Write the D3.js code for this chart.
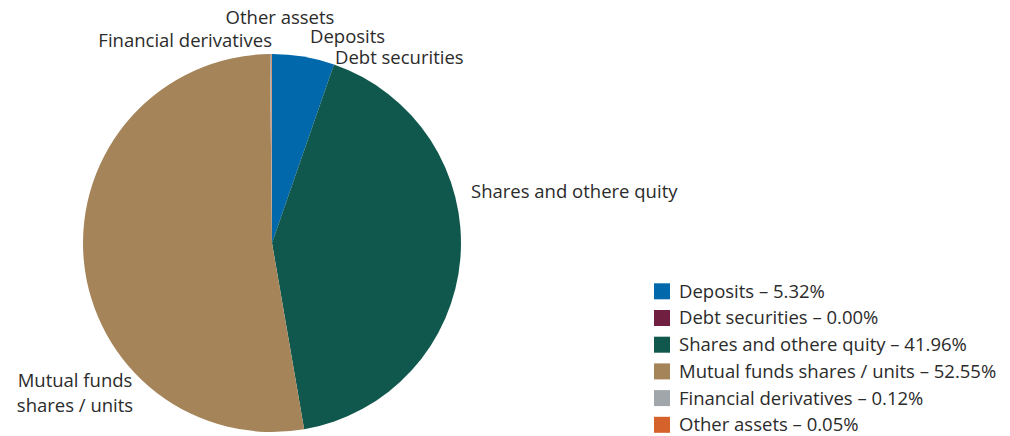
<!DOCTYPE html>
<html>
<head>
<meta charset="utf-8">
<script src="https://cdn.jsdelivr.net/npm/d3@7"></script>
<style>
  body { margin: 0; background: #fff; }
  text { font-family: "Open Sans", Lato, sans-serif; fill: #2b2b2b; }
</style>
</head>
<body>
<div id="chart"></div>
<script>
var categories = ["Deposits", "Debt securities", "Shares and othere quity",
                  "Mutual funds shares / units", "Financial derivatives", "Other assets"];
var values = [5.32, 0.00, 41.96, 52.55, 0.12, 0.05];
var colors = ["#0068ab", "#701f40", "#10584d", "#a6845a", "#a0a6a9", "#d4622a"];

// slice labels: lines of text, offset from pie centre (dx, dy) and anchor
var sliceLabels = [
  {lines: ["Deposits"], dx: 38, dy: -206, anchor: "start"},
  {lines: ["Debt securities"], dx: 63, dy: -185, anchor: "start"},
  {lines: ["Shares and othere quity"], dx: 199, dy: -51, anchor: "start"},
  {lines: ["Mutual funds", "shares / units"], dx: -197, dy: 150.5, anchor: "middle"},
  {lines: ["Financial derivatives"], dx: 0, dy: -202, anchor: "end"},
  {lines: ["Other assets"], dx: 8, dy: -225, anchor: "middle"}
];

var width = 1010, height = 436;
var cx = 272, cy = 243, radius = 189;
var fontSize = 18.5;

var svg = d3.select("#chart").append("svg")
    .attr("width", width)
    .attr("height", height);

var g = svg.append("g")
    .attr("transform", "translate(" + cx + "," + cy + ")");

var pie = d3.pie().sort(null).value(function(d) { return d; });
var arc = d3.arc().innerRadius(0).outerRadius(radius);

g.selectAll("path")
  .data(pie(values))
  .enter().append("path")
    .attr("d", arc)
    .attr("fill", function(d, i) { return colors[i]; });

// labels
var lab = g.selectAll("text.lab")
  .data(sliceLabels)
  .enter().append("text")
    .attr("class", "lab")
    .attr("font-size", fontSize)
    .attr("text-anchor", function(d) { return d.anchor; })
    .attr("transform", function(d) { return "translate(" + d.dx + "," + d.dy + ")"; });

lab.selectAll("tspan")
  .data(function(d) { return d.lines.map(function(l, k) { return {t: l, k: k, n: d.lines.length}; }); })
  .enter().append("tspan")
    .attr("x", 0)
    .attr("y", function(d) { return (d.k - (d.n - 1) / 2) * 25; })
    .attr("dy", "0.35em")
    .text(function(d) { return d.t; });

// legend
var legend = svg.append("g")
    .attr("transform", "translate(654,283.3)")
  .selectAll("g")
  .data(categories)
  .enter().append("g")
    .attr("transform", function(d, i) { return "translate(0," + (i * 26.7) + ")"; });

legend.append("rect")
    .attr("width", 16)
    .attr("height", 16)
    .attr("fill", function(d, i) { return colors[i]; });

legend.append("text")
    .attr("x", 25)
    .attr("y", 8)
    .attr("dy", "0.35em")
    .attr("font-size", fontSize)
    .text(function(d, i) { return d + " \u2013 " + values[i].toFixed(2) + "%"; });
</script>
</body>
</html>
